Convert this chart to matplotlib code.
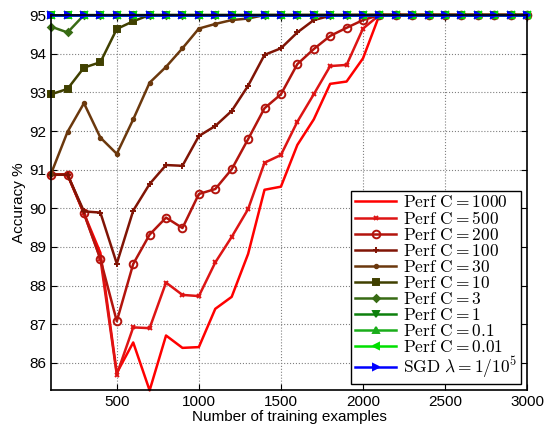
import numpy as np
import matplotlib
matplotlib.use("Agg")
import matplotlib.pyplot as plt

plt.rcParams['font.family'] = ['Liberation Sans', 'DejaVu Sans']
plt.rcParams['mathtext.fontset'] = 'cm'

n = np.arange(100, 3100, 100)

def pad(vals):
    # series reach 95 and stay there
    return list(vals) + [95.0] * (len(n) - len(vals))

c1000 = pad([90.87, 90.87, 89.87, 88.85, 85.74, 86.53, 85.29, 86.71, 86.39, 86.41,
             87.40, 87.71, 88.82, 90.48, 90.56, 91.64, 92.30, 93.22, 93.28, 93.88])
c500 = pad([90.87, 90.87, 89.87, 88.70, 85.70, 86.92, 86.90, 88.08, 87.76, 87.73,
            88.60, 89.26, 89.98, 91.18, 91.38, 92.24, 92.95, 93.68, 93.71, 94.65])
c200 = pad([90.87, 90.87, 89.87, 88.69, 87.08, 88.56, 89.32, 89.76, 89.49, 90.37,
            90.50, 91.01, 91.79, 92.59, 92.95, 93.73, 94.12, 94.46, 94.67, 94.87])
c100 = pad([90.87, 90.87, 89.92, 89.89, 88.57, 89.94, 90.63, 91.12, 91.10, 91.87,
            92.13, 92.52, 93.17, 93.97, 94.14, 94.55, 94.87, 94.98])
c30 = pad([90.90, 91.98, 92.72, 91.83, 91.41, 92.30, 93.25, 93.66, 94.14, 94.65,
           94.77, 94.87, 94.91])
c10 = pad([92.95, 93.09, 93.64, 93.78, 94.64, 94.84])
c3 = pad([94.70, 94.55])
c1 = pad([])
c01 = pad([])
c001 = pad([])
sgd = pad([])

series = [
    (c1000, r'$\mathrm{Perf\ C} = 1000$', (1.0, 0.0, 0.0), None),
    (c500, r'$\mathrm{Perf\ C} = 500$', (0.87, 0.08, 0.08), 'x'),
    (c200, r'$\mathrm{Perf\ C} = 200$', (0.7, 0.08, 0.05), 'o'),
    (c100, r'$\mathrm{Perf\ C} = 100$', (0.5, 0.08, 0.02), '+'),
    (c30, r'$\mathrm{Perf\ C} = 30$', (0.42, 0.22, 0.05), '.'),
    (c10, r'$\mathrm{Perf\ C} = 10$', (0.25, 0.25, 0.0), 's'),
    (c3, r'$\mathrm{Perf\ C} = 3$', (0.22, 0.42, 0.08), 'D'),
    (c1, r'$\mathrm{Perf\ C} = 1$', (0.05, 0.5, 0.05), 'v'),
    (c01, r'$\mathrm{Perf\ C} = 0.1$', (0.1, 0.68, 0.1), '^'),
    (c001, r'$\mathrm{Perf\ C} = 0.01$', (0.0, 0.88, 0.0), '<'),
    (sgd, r'$\mathrm{SGD}\ \lambda = 1/10^5$', (0.0, 0.0, 1.0), '>'),
]

sizes = {'o': 5.5, 'D': 3.5, 's': 4.5, 'x': 3.5, '+': 4, '.': 5}

fig = plt.figure(figsize=(5.44, 4.30), dpi=100)
ax = fig.add_axes([0.094, 0.093, 0.875, 0.872])

for vals, lab, col, mk in series:
    ms = sizes.get(mk, 5)
    mfc = 'none' if mk == 'o' else col
    ax.plot(n, vals, color=col, marker=mk, markersize=ms, markerfacecolor=mfc,
            markeredgecolor=col, markeredgewidth=1.4, linewidth=1.8, label=lab,
            clip_on=False)

ax.set_xlim(100, 3000)
ax.set_ylim(85.3, 95)
ax.set_xticks([500, 1000, 1500, 2000, 2500, 3000])
ax.set_yticks([86, 87, 88, 89, 90, 91, 92, 93, 94, 95])
ax.tick_params(direction='in', labelsize=11, length=4, top=True, right=True)
ax.grid(True, linestyle=':', color='gray', linewidth=0.8)
for s in ax.spines.values():
    s.set_linewidth(1.2)
ax.set_xlabel('Number of training examples', fontsize=11, labelpad=1)
ax.set_ylabel('Accuracy %', fontsize=11, labelpad=2)

leg = ax.legend(loc='lower right', fontsize=12.5, handlelength=2.4, labelspacing=0.0,
                borderaxespad=0.35, fancybox=False, framealpha=1, handletextpad=0.4,
                borderpad=0.2)
leg.get_frame().set_edgecolor('black')
leg.get_frame().set_linewidth(1.0)

fig.savefig('out.png', dpi=100)
